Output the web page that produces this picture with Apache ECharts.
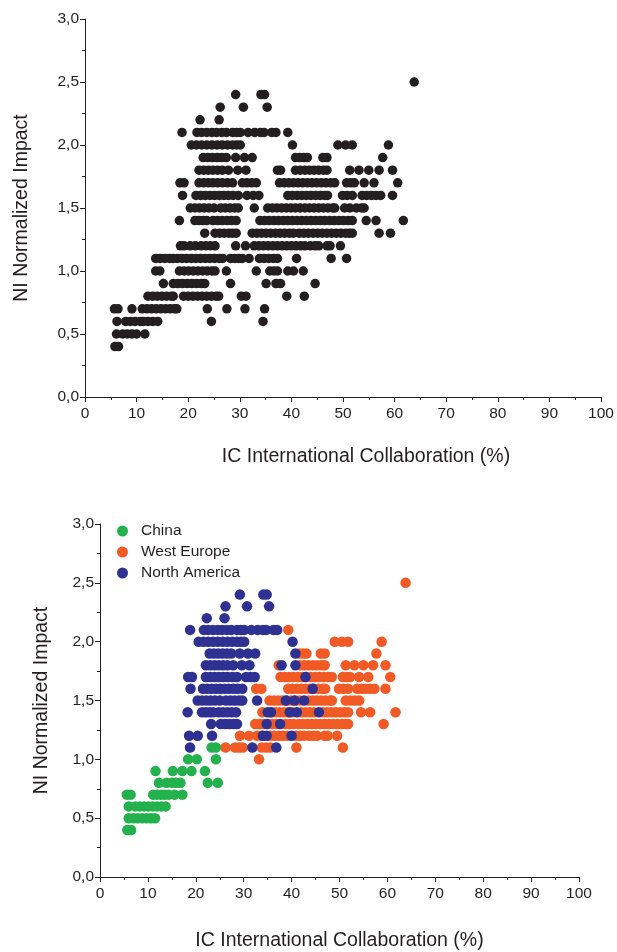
<!DOCTYPE html>
<html>
<head>
<meta charset="utf-8">
<script src="https://cdn.jsdelivr.net/npm/echarts@6/dist/echarts.min.js"></script>
<style>
html,body{margin:0;padding:0;background:#fff;}
#c{width:617px;height:952px;}
</style>
</head>
<body>
<div id="c"></div>
<script>
// ---- Data (rows: [NI value, [IC values...]]) ----
const xTicks = [0, 10, 20, 30, 40, 50, 60, 70, 80, 90, 100];
const yTicks = [0, 0.5, 1.0, 1.5, 2.0, 2.5, 3.0];

const allCountriesRows = [
 [2.5,[63.8]],
 [2.4,[29.2,34.1,34.8]],
 [2.3,[26.2,30.7,35.3]],
 [2.2,[22.3,26.0]],
 [2.1,[18.8,21.7,22.6,23.6,24.6,25.5,26.5,27.4,28.6,29.4,30.1,31.6,32.9,34.0,34.7,36.2,37.0,39.3]],
 [2.0,[20.6,21.6,22.6,23.6,24.6,25.6,26.6,27.6,28.6,29.4,30.1,40.2,49.0,50.5,51.8,58.8]],
 [1.9,[22.9,23.8,24.7,25.6,26.5,27.4,29.2,30.9,32.4,40.8,41.6,42.4,43.1,46.1,46.9,57.7]],
 [1.8,[22.1,23.0,23.9,24.8,25.7,26.6,27.8,29.6,31.2,37.3,37.9,40.8,41.7,42.6,43.5,44.4,45.3,46.2,46.9,51.3,53.1,55.0,57.0,59.6]],
 [1.7,[18.4,19.2,22.1,23.0,23.9,24.8,25.7,26.6,27.6,28.6,30.5,31.4,32.3,33.2,37.7,38.6,39.5,40.4,41.3,42.2,43.1,44.0,44.9,45.8,46.7,47.6,48.4,50.7,51.5,52.2,54.1,56.0,60.6]],
 [1.6,[18.9,21.5,22.4,23.3,24.2,25.1,26.0,26.9,27.8,28.7,29.7,31.4,32.6,33.7,39.3,40.2,41.1,42.0,42.9,43.8,44.7,45.6,46.5,47.0,49.9,50.8,51.8,53.7,54.6,55.5,56.4,57.3,59.6]],
 [1.5,[20.4,21.3,22.2,23.1,24.0,25.0,26.3,27.2,28.1,29.0,29.7,32.8,35.4,36.3,37.2,38.1,39.0,39.9,40.8,41.7,42.6,43.5,44.4,45.3,46.2,47.1,48.0,48.4,50.3,51.3,52.6,53.6,54.1]],
 [1.4,[18.3,21.3,22.1,22.9,23.6,24.8,25.7,26.6,27.5,28.4,29.3,33.9,34.8,35.7,36.6,37.5,38.4,39.3,40.2,41.1,42.0,42.9,43.8,44.7,45.6,46.5,47.4,48.3,49.2,50.1,51.0,51.8,54.5,56.4,61.7]],
 [1.3,[23.2,25.2,26.1,27.0,27.9,28.6,29.3,32.4,33.3,34.2,35.1,36.0,36.9,37.8,38.7,39.6,40.4,41.5,42.4,43.3,44.2,45.1,46.0,46.9,47.8,48.7,49.6,50.5,51.2,51.8,57.0,59.2]],
 [1.2,[18.5,19.2,20.4,21.4,22.5,23.4,24.3,25.2,29.2,31.1,32.8,33.7,34.6,35.5,36.4,37.3,38.2,39.1,40.0,40.9,41.8,42.6,43.7,44.6,45.3,46.9,47.5,49.5]],
 [1.1,[13.7,14.6,15.5,16.4,17.1,17.9,18.8,19.7,20.6,21.5,22.4,23.3,24.2,25.1,26.0,26.7,28.2,29.0,29.8,30.5,31.8,33.8,34.7,35.6,36.5,37.3,41.0,47.7,50.7]],
 [1.0,[13.7,14.5,18.3,19.2,20.1,21.0,21.9,22.8,23.7,24.6,25.2,27.4,33.2,35.8,36.6,37.3,39.3,40.4,42.3]],
 [0.9,[15.2,17.1,18.0,18.9,19.8,20.7,21.6,22.5,23.2,28.2,35.1,37.0,37.9,44.6]],
 [0.8,[12.2,13.1,14.0,14.9,15.8,16.7,17.1,19.1,20.0,20.9,21.8,22.7,23.6,24.5,25.4,25.9,30.3,31.2,39.1,42.5]],
 [0.7,[5.7,6.4,9.1,11.1,12.0,12.9,13.8,14.7,15.6,16.5,17.3,17.8,23.7,27.5,31.0,34.8]],
 [0.6,[6.2,7.9,8.8,9.7,10.7,11.3,12.2,13.1,14.1,24.5,34.5]],
 [0.5,[6.1,7.3,8.2,9.1,10.0,11.6]],
 [0.4,[5.8,6.5]]
];

const chinaRows = [
 [1.1,[23.3,24.2]],
 [1.0,[18.4,20.2,24.2]],
 [0.9,[11.6,15.2,17.2,19.1,21.9]],
 [0.8,[12.3,13.9,15.0,15.9,16.8,22.5,24.6]],
 [0.7,[5.6,6.4,11.1,11.9,12.7,13.5,14.3,15.6,17.2]],
 [0.6,[6.0,7.4,8.3,9.2,10.1,11.0,11.9,12.8,13.7]],
 [0.5,[6.0,7.0,7.9,8.8,9.7,10.6,11.5]],
 [0.4,[5.7,6.5]]
];

const westEuropeRows = [
 [2.5,[63.8]],
 [2.1,[39.3]],
 [2.0,[49.0,50.5,51.8,58.8]],
 [1.9,[41.6,42.4,43.1,46.1,46.9,57.7]],
 [1.8,[37.3,41.7,42.6,43.5,44.4,45.3,46.2,46.9,51.3,53.1,55.0,57.0,59.6]],
 [1.7,[37.7,38.6,39.5,40.4,41.3,42.2,43.1,44.0,44.9,45.8,46.7,47.6,48.4,50.7,51.5,52.2,54.1,56.0,60.6]],
 [1.6,[32.6,33.7,39.3,40.2,41.1,42.0,42.9,43.8,44.7,45.6,46.5,47.0,49.9,50.8,51.8,53.7,54.6,55.5,56.4,57.3,59.6]],
 [1.5,[35.4,36.3,37.2,38.1,39.0,39.9,40.8,41.7,43.5,44.4,45.3,46.2,47.1,48.0,48.4,51.3,52.3,53.2,54.1]],
 [1.4,[33.9,35.7,36.6,37.5,38.4,39.3,40.2,42.0,42.9,43.8,44.7,46.5,47.4,48.3,49.2,50.1,51.0,51.8,54.5,56.4,61.7]],
 [1.3,[32.4,33.3,34.2,35.1,36.0,36.9,38.7,39.6,40.4,41.5,42.4,43.3,44.2,45.1,46.0,46.9,47.8,48.7,49.6,50.5,51.2,51.8,59.2]],
 [1.2,[29.2,31.1,32.8,33.7,35.5,36.4,37.3,38.2,39.1,40.9,41.8,42.6,43.7,44.6,45.3,46.9,47.5,49.5]],
 [1.1,[26.2,28.2,29.0,29.8,33.8,34.7,35.6,41.0,50.7]],
 [1.0,[33.2]]
];

const northAmericaRows = [
 [2.4,[29.2,34.1,34.8]],
 [2.3,[26.2,30.7,35.3]],
 [2.2,[22.3,26.0]],
 [2.1,[18.8,21.7,22.6,23.6,24.6,25.5,26.5,27.4,28.6,29.4,30.1,31.6,32.9,34.0,34.7,36.2,37.0]],
 [2.0,[20.6,21.6,22.6,23.6,24.6,25.6,26.6,27.6,28.6,29.4,30.1,40.2]],
 [1.9,[22.9,23.8,24.7,25.6,26.5,27.4,29.2,30.9,32.4,40.8]],
 [1.8,[22.1,23.0,23.9,24.8,25.7,26.6,27.8,29.6,31.2,37.9,40.8]],
 [1.7,[18.4,19.2,22.1,23.0,23.9,24.8,25.7,26.6,27.6,28.6,30.5,31.4,32.3,42.9]],
 [1.6,[18.9,21.5,22.4,23.3,24.2,25.1,26.0,26.9,27.8,28.7,29.7,44.4]],
 [1.5,[20.4,21.3,22.2,23.1,24.0,25.0,26.3,27.2,28.1,29.0,29.7,32.8,38.8,40.6,42.6]],
 [1.4,[18.3,21.3,22.1,22.9,23.6,24.8,25.7,26.6,27.5,28.4,35.0,35.7,39.6,41.1,45.7]],
 [1.3,[23.2,25.2,26.1,27.0,27.9,28.6,34.8,37.6]],
 [1.2,[18.6,20.4,23.4,34.0,34.8,40.0]],
 [1.1,[18.8,31.8,36.8]]
];

const seriesNames = ['China', 'West Europe', 'North America'];
const xTitle = 'IC International Collaboration (%)';
const yTitle = 'NI Normalized Impact';

// ---- Build ----
function expand(rows) {
  const out = [];
  rows.forEach(function (r) { r[1].forEach(function (x) { out.push([x, r[0]]); }); });
  return out;
}
const FONT = "'Liberation Sans', Arial, sans-serif";
const INK = '#231f20';
function fmtY(v) { return v.toFixed(1).replace('.', ','); }

function xAxisFor(gi, gap, shift) {
  return {
    gridIndex: gi, type: 'value', min: xTicks[0], max: xTicks[xTicks.length - 1], interval: xTicks[1] - xTicks[0],
    name: xTitle, nameLocation: 'middle', nameGap: gap,
    nameTextStyle: { fontFamily: FONT, fontSize: 19.5, color: INK, padding: [0, 0, 0, shift] },
    axisLine: { show: true, onZero: false, lineStyle: { color: INK, width: 1 } },
    axisTick: { show: true, inside: false, length: 5, lineStyle: { color: INK } },
    minorTick: { show: true, splitNumber: 2, length: 3, lineStyle: { color: INK } },
    axisLabel: { fontFamily: FONT, fontSize: 15.5, color: INK, margin: 9 },
    splitLine: { show: false }
  };
}
function yAxisFor(gi, gap) {
  return {
    gridIndex: gi, type: 'value', min: yTicks[0], max: yTicks[yTicks.length - 1], interval: yTicks[1] - yTicks[0],
    name: yTitle, nameLocation: 'middle', nameGap: gap, nameRotate: 90,
    nameTextStyle: { fontFamily: FONT, fontSize: 19.5, color: INK },
    axisLine: { show: true, onZero: false, lineStyle: { color: INK, width: 1 } },
    axisTick: { show: true, inside: false, length: 5, lineStyle: { color: INK } },
    minorTick: { show: true, splitNumber: 2, length: 3, lineStyle: { color: INK } },
    axisLabel: { fontFamily: FONT, fontSize: 15.5, color: INK, margin: 6, formatter: fmtY },
    splitLine: { show: false }
  };
}

const chart = echarts.init(document.getElementById('c'), null, { renderer: 'canvas' });
chart.setOption({
  backgroundColor: '#ffffff',
  animation: false,
  grid: [
    { left: 85, right: 16, top: 19, height: 378 },
    { left: 100, right: 38, top: 524, height: 353 }
  ],
  xAxis: [xAxisFor(0, 50, 46), xAxisFor(1, 54, 0)],
  yAxis: [yAxisFor(0, 53), yAxisFor(1, 48)],
  legend: {
    orient: 'vertical', left: 112, top: 518, itemGap: 5,
    icon: 'circle', itemWidth: 11, itemHeight: 11,
    textStyle: { fontFamily: FONT, fontSize: 15.5, color: INK, padding: [0, 0, 0, 8] },
    data: seriesNames
  },
  series: [
    { type: 'scatter', name: 'All', xAxisIndex: 0, yAxisIndex: 0, symbolSize: 9.5,
      itemStyle: { color: INK, opacity: 1 }, data: expand(allCountriesRows) },
    { type: 'scatter', name: seriesNames[1], xAxisIndex: 1, yAxisIndex: 1, symbolSize: 10.5,
      itemStyle: { color: '#f15a24', opacity: 1 }, data: expand(westEuropeRows) },
    { type: 'scatter', name: seriesNames[0], xAxisIndex: 1, yAxisIndex: 1, symbolSize: 10.5,
      itemStyle: { color: '#22b14c', opacity: 1 }, data: expand(chinaRows) },
    { type: 'scatter', name: seriesNames[2], xAxisIndex: 1, yAxisIndex: 1, symbolSize: 10.5,
      itemStyle: { color: '#2e3192', opacity: 1 }, data: expand(northAmericaRows) }
  ]
});
</script>
</body>
</html>
